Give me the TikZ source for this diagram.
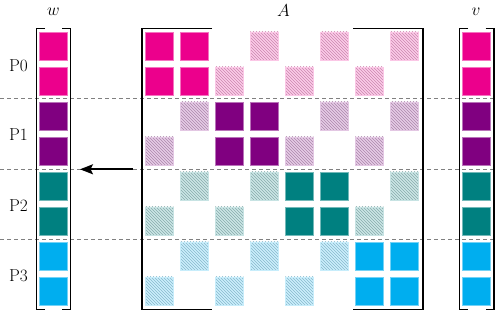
\documentclass[tikz,border=0pt]{standalone}
\usetikzlibrary{patterns,arrows.meta}
\definecolor{cP}{HTML}{EC008C}
\definecolor{cU}{HTML}{800080}
\definecolor{cT}{HTML}{008080}
\definecolor{cC}{HTML}{00AEEF}
\tikzset{
  solidcell/.style={rectangle, inner sep=0pt, minimum size=28pt, fill=#1, draw=#1!55, line width=0.6pt},
  hatchcell/.style={rectangle, inner sep=0pt, minimum size=28pt, preaction={fill=#1!20}, pattern=north west lines, pattern color=#1!45!gray!65, draw=#1!22, line width=0.6pt},
  brk/.style={line width=1.2pt, black},
  sep/.style={gray, line width=0.8pt, dash pattern=on 4pt off 3pt},
  lab/.style={font=\LARGE, anchor=base, inner sep=0pt},
  arr/.style={line width=1.8pt, -{Stealth[length=13pt,width=10pt,inset=2.5pt]}}
}
\begin{document}
\begin{tikzpicture}[x=1pt,y=-1pt]
\useasboundingbox (0,0) rectangle (499,315);
% separators
\foreach \yy in {98.8,169.3,239.3}
  \draw[sep] (0,\yy) -- (496,\yy);
% vectors w and v
\foreach \r/\cl in {0/cP,1/cP,2/cU,3/cU,4/cT,5/cT,6/cC,7/cC} {
  \node[solidcell=\cl] (w-\r) at (53.7,{46+35*\r}) {};
  \node[solidcell=\cl] (v-\r) at (476.5,{46+35*\r}) {};
}
% matrix solid blocks
\foreach \r/\c/\cl in {0/0/cP,0/1/cP,1/0/cP,1/1/cP,2/2/cU,2/3/cU,3/2/cU,3/3/cU,4/4/cT,4/5/cT,5/4/cT,5/5/cT,6/6/cC,6/7/cC,7/6/cC,7/7/cC}
  \node[solidcell=\cl] (a-\r-\c) at ({159.3+35*\c},{46+35*\r}) {};
% matrix hatched cells
\foreach \r/\c/\cl in {0/3/cP,0/5/cP,0/7/cP,1/2/cP,1/4/cP,1/6/cP,2/1/cU,2/5/cU,2/7/cU,3/0/cU,3/4/cU,3/6/cU,4/1/cT,4/3/cT,4/7/cT,5/0/cT,5/2/cT,5/6/cT,6/1/cC,6/3/cC,6/5/cC,7/0/cC,7/2/cC,7/4/cC}
  \node[hatchcell=\cl] (a-\r-\c) at ({159.3+35*\c},{46+35*\r}) {};
% brackets
\draw[brk] (45,28.5) -- (36.5,28.5) -- (36.5,309.5) -- (45,309.5);
\draw[brk] (62,28.5) -- (70.5,28.5) -- (70.5,309.5) -- (62,309.5);
\draw[brk] (212,28.5) -- (142,28.5) -- (142,309.5) -- (212,309.5);
\draw[brk] (353,28.5) -- (423,28.5) -- (423,309.5) -- (353,309.5);
\draw[brk] (468,28.5) -- (459.5,28.5) -- (459.5,309.5) -- (468,309.5);
\draw[brk] (485.5,28.5) -- (494,28.5) -- (494,309.5) -- (485.5,309.5);
% labels
\node[lab] (lw) at (53.5,16) {$w$};
\node[lab] (lA) at (283.5,16.5) {$A$};
\node[lab] (lv) at (476,16) {$v$};
\node[lab] (p0) at (18.5,72) {P0};
\node[lab] (p1) at (18.5,140.7) {P1};
\node[lab] (p2) at (18.5,211.5) {P2};
\node[lab] (p3) at (18.5,281.5) {P3};
% arrow
\coordinate (arrS) at (133,169.3);
\coordinate (arrE) at (80,169.3);
\draw[arr] (arrS) -- (arrE);
\end{tikzpicture}
\end{document}
